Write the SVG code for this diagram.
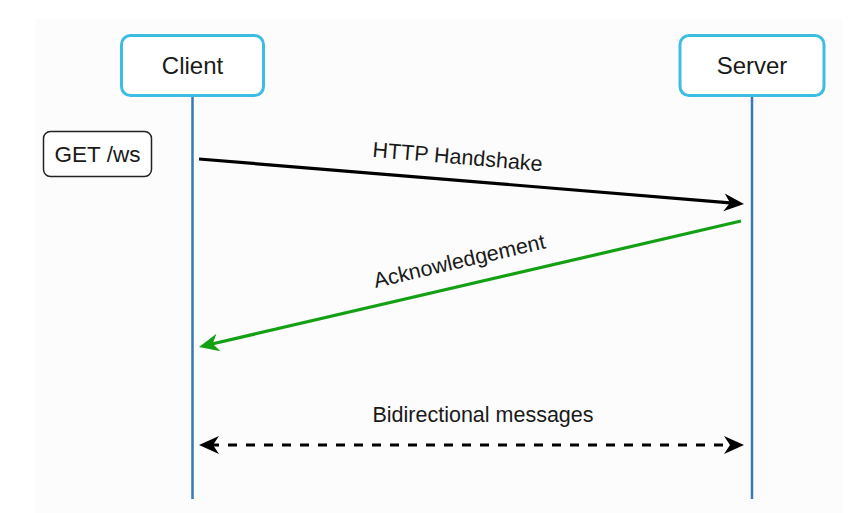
<svg xmlns="http://www.w3.org/2000/svg" width="854" height="513" viewBox="0 0 854 513">
  <style>
    .lbl { font-family: "Liberation Sans", Arial, sans-serif; fill: #1a1a1a; }
    .actor { fill: #ffffff; stroke: #3ebde2; stroke-width: 3; }
    .lifeline { stroke: #3a78b5; stroke-width: 2.5; fill: none; }
    .msg { fill: none; stroke-width: 3.2; }
  </style>
  <defs>
    <marker id="arrowBlack" markerUnits="userSpaceOnUse" markerWidth="22" markerHeight="22" refX="9" refY="10" orient="auto-start-reverse">
      <path d="M0,1 L20,10 L0,19 L6,10 Z" fill="#000000"/>
    </marker>
    <marker id="arrowGreen" markerUnits="userSpaceOnUse" markerWidth="22" markerHeight="22" refX="9" refY="10" orient="auto">
      <path d="M0,1 L20,10 L0,19 L6,10 Z" fill="#14a014"/>
    </marker>
  </defs>

  <!-- canvas -->
  <rect x="0" y="0" width="854" height="513" fill="#ffffff"/>
  <rect x="35" y="18" width="807" height="495" fill="#fcfcfc"/>

  <!-- lifelines -->
  <g id="lifelines">
    <line class="lifeline" x1="192.5" y1="97" x2="192.5" y2="499"/>
    <line class="lifeline" x1="752" y1="97" x2="752" y2="499"/>
  </g>

  <g id="client">
    <rect class="actor" x="121.5" y="35.5" width="142" height="60" rx="9"/>
    <text class="lbl" x="192.5" y="74" font-size="24" text-anchor="middle">Client</text>
  </g>

  <g id="server">
    <rect class="actor" x="680" y="35.5" width="144" height="60" rx="9"/>
    <text class="lbl" x="752" y="74" font-size="24" text-anchor="middle">Server</text>
  </g>

  <g id="get-note">
    <rect x="43.5" y="131.5" width="108" height="45" rx="7" fill="#ffffff" stroke="#222222" stroke-width="1.5"/>
    <text class="lbl" x="97.5" y="162" font-size="22.5" text-anchor="middle">GET /ws</text>
  </g>

  <!-- messages -->
  <g id="connectors">
    <line class="msg" x1="199" y1="159" x2="733" y2="203.1" stroke="#000000" marker-end="url(#arrowBlack)"/>
    <line class="msg" x1="741" y1="221" x2="209.7" y2="344.5" stroke="#14a014" marker-end="url(#arrowGreen)"/>
    <line class="msg" x1="210" y1="445" x2="733" y2="445" stroke="#000000" stroke-dasharray="9 9" marker-start="url(#arrowBlack)" marker-end="url(#arrowBlack)"/>
  </g>

  <g id="labels">
    <text class="lbl" x="457" y="164" font-size="21.5" text-anchor="middle" transform="rotate(4.8 457 164)">HTTP Handshake</text>
    <text class="lbl" x="461" y="268" font-size="21.5" text-anchor="middle" transform="rotate(-13.1 461 268)">Acknowledgement</text>
    <text class="lbl" x="483" y="422" font-size="21.5" text-anchor="middle">Bidirectional messages</text>
  </g>
</svg>
